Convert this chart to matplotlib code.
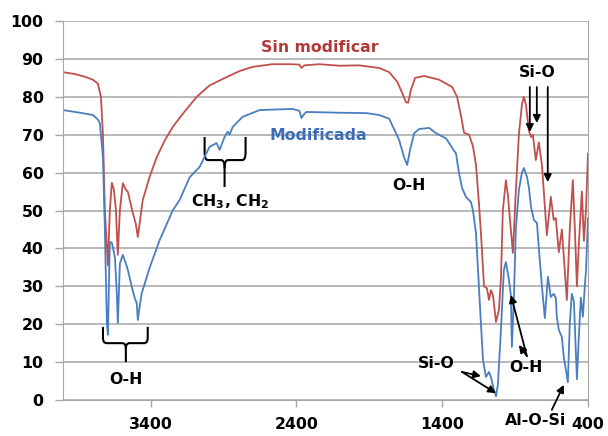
import matplotlib
matplotlib.use("Agg")
import matplotlib.pyplot as plt
from matplotlib.path import Path
from matplotlib.patches import PathPatch

plt.rcParams['font.family'] = ['DejaVu Sans']

# Sin modificar (red)
red_wn = [4000, 3918, 3850, 3795, 3761, 3740, 3726, 3713, 3692, 3679, 3665, 3651, 3637, 3624,
          3610, 3590, 3569, 3555, 3521, 3501, 3487, 3473, 3453, 3405, 3357, 3302, 3248, 3179,
          3083, 2995, 2878, 2789, 2700, 2564, 2447, 2379, 2365, 2345, 2242, 2105, 1969, 1832,
          1763, 1709, 1674, 1647, 1633, 1613, 1585, 1524, 1421, 1332, 1298, 1271, 1250, 1216,
          1189, 1168, 1148, 1134, 1113, 1093, 1079, 1065, 1051, 1031, 1011, 997, 984, 963, 949,
          936, 915, 895, 874, 853, 840, 826, 805, 791, 778, 758, 737, 716, 703, 682, 655, 635,
          621, 600, 579, 559, 545, 525, 504, 490, 476, 463, 442, 428, 414, 400]
red_t = [86.5, 86.0, 85.3, 84.5, 83.5, 80.0, 70.0, 50.0, 35.6, 50.0, 57.3, 55.5, 50.0, 38.3,
         50.0, 57.2, 55.5, 54.9, 49.3, 46.5, 43.0, 47.0, 52.8, 59.0, 64.1, 68.5, 72.0, 75.5,
         80.0, 83.0, 85.2, 86.8, 87.9, 88.6, 88.6, 88.5, 87.6, 88.3, 88.6, 88.2, 88.3, 87.6,
         86.5, 84.0, 81.0, 78.5, 78.5, 82.0, 85.0, 85.5, 84.5, 82.6, 80.0, 75.0, 70.5, 70.0,
         67.0, 62.0, 52.0, 44.0, 30.0, 29.5, 26.4, 29.0, 27.5, 20.6, 23.7, 32.0, 50.0, 58.0, 54.0,
         48.0, 38.8, 55.0, 70.0, 78.0, 80.0, 78.0, 71.0, 69.4, 70.0, 63.3, 68.0, 62.0, 55.0, 43.5,
         53.6, 47.5, 48.0, 39.0, 45.0, 34.0, 26.4, 45.0, 58.0, 45.0, 30.0, 41.0, 55.0, 42.0,
         50.0, 65.0]

# Modificada (blue)
blue_wn = [4000, 3884, 3795, 3761, 3747, 3726, 3713, 3699, 3692, 3685, 3679, 3665, 3644, 3631,
           3624, 3617, 3610, 3590, 3569, 3555, 3528, 3508, 3494, 3487, 3473, 3460, 3405, 3337,
           3248, 3200, 3131, 3063, 2995, 2947, 2926, 2892, 2871, 2858, 2837, 2769, 2652, 2427,
           2379, 2365, 2345, 2331, 2105, 1921, 1832, 1763, 1695, 1661, 1640, 1620, 1592, 1558,
           1490, 1442, 1373, 1339, 1305, 1285, 1264, 1237, 1202, 1189, 1168, 1148, 1134, 1120,
           1100, 1079, 1065, 1045, 1031, 1018, 997, 977, 963, 942, 929, 922, 908, 895, 874, 853,
           840, 819, 805, 791, 771, 750, 737, 716, 696, 675, 655, 635, 621, 614, 600, 579, 566,
           552, 538, 525, 511, 497, 476, 463, 449, 435, 422, 414, 400]
blue_t = [76.5, 75.8, 75.2, 74.0, 73.0, 64.0, 45.0, 20.3, 17.2, 30.0, 41.7, 41.5, 37.7, 28.0,
          20.3, 28.0, 36.0, 38.3, 36.0, 34.3, 29.8, 26.9, 25.5, 21.1, 25.0, 28.2, 35.0, 42.2,
          50.0, 52.8, 58.8, 61.5, 66.8, 67.8, 66.0, 69.4, 70.8, 70.0, 72.0, 74.7, 76.5, 76.8,
          76.3, 74.4, 75.5, 76.0, 75.8, 75.7, 75.2, 74.2, 68.6, 64.0, 62.0, 66.0, 70.4, 71.5,
          71.8, 70.4, 69.0, 67.0, 65.0, 60.0, 56.0, 53.6, 52.2, 50.0, 44.0, 30.0, 20.0, 10.6,
          6.1, 7.4, 6.0, 2.6, 1.0, 4.0, 18.5, 34.3, 36.4, 31.7, 27.7, 14.0, 27.2, 45.0, 55.4, 60.0,
          61.2, 59.0, 56.0, 51.0, 47.5, 46.7, 40.0, 30.0, 21.6, 32.5, 27.2, 28.0, 27.0, 22.0,
          18.5, 16.6, 11.3, 8.0, 4.7, 20.0, 28.0, 26.0, 5.5, 16.6, 27.0, 22.0, 30.0, 34.0, 48.0]

x_ticks = [3400, 2400, 1400, 400]
y_ticks = list(range(0, 101, 10))

RED = '#C0504D'
BLUE = '#4A7EC0'
GRID = '#A6A6A6'
FS = 11.3

fig = plt.figure(figsize=(6.08, 4.36), dpi=100)
ax = fig.add_axes([63/608, 36/436, 525/608, 379/436])

ax.plot(red_wn, red_t, color=RED, lw=1.3)
ax.plot(blue_wn, blue_t, color=BLUE, lw=1.3)

ax.set_xlim(4000, 400)
ax.set_ylim(0, 100)
ax.set_xticks(x_ticks)
ax.set_yticks(y_ticks)
ax.yaxis.grid(True, color=GRID, lw=1.1)
ax.set_axisbelow(True)
for s in ['left', 'bottom', 'right', 'top']:
    ax.spines[s].set_color(GRID)
ax.spines['top'].set_visible(False)
ax.tick_params(axis='both', colors=GRID, width=1, labelcolor='black', labelsize=FS)
ax.tick_params(axis='x', length=5, pad=7)
ax.tick_params(axis='y', length=6, pad=8)
for lab in ax.get_xticklabels() + ax.get_yticklabels():
    lab.set_fontweight('bold')

tkw = dict(fontweight='bold', ha='center', va='center', fontsize=FS)
ax.text(2242, 93.1, 'Sin modificar', color='#B03A3A', **tkw)
ax.text(2249, 69.9, 'Modificada', color='#3C6DB4', **tkw)
ax.text(2851, 52.3, r'CH$_\mathbf{3}$, CH$_\mathbf{2}$', color='black', **tkw)
ax.text(3569, 5.3, 'O-H', color='black', **tkw)
ax.text(1627, 56.7, 'O-H', color='black', **tkw)
ax.text(751, 86.5, 'Si-O', color='black', **tkw)
ax.text(1442, 9.5, 'Si-O', color='black', **tkw)
ax.text(826, 8.7, 'O-H', color='black', **tkw)
ax.text(758, -5.5, 'Al-O-Si', color='black', clip_on=False, **tkw)

akw = dict(arrowstyle='-|>', color='black', lw=1.3, mutation_scale=11,
           shrinkA=0, shrinkB=0)
def arrow(x0, y0, x1, y1):
    ax.annotate('', xy=(x1, y1), xytext=(x0, y0), arrowprops=akw, annotation_clip=False)

# Si-O top
arrow(799, 82.6, 799, 70.7)
arrow(751, 82.6, 751, 73.1)
arrow(676, 82.6, 676, 57.5)
# Si-O bottom
arrow(1264, 7.4, 1134, 6.3)
arrow(1264, 7.4, 1031, 1.8)
# O-H right
arrow(819, 11.6, 929, 27.7)
arrow(819, 11.6, 874, 14.5)
# Al-O-Si
arrow(648, -2.6, 566, 4.0)

def brace(xl, xr, xm, ytop, ybot, ystem):
    dx = (xr - xl) * 0.08
    dy = (ytop - ybot) * 0.35
    verts = [(xl, ytop), (xl, ybot + dy), (xl, ybot), (xl + dx, ybot),
             (xm - dx, ybot), (xm, ybot), (xm, ybot - dy),
             (xm, ystem)]
    codes = [Path.MOVETO, Path.LINETO, Path.CURVE3, Path.CURVE3,
             Path.LINETO, Path.CURVE3, Path.CURVE3, Path.LINETO]
    verts2 = [(xr, ytop), (xr, ybot + dy), (xr, ybot), (xr - dx, ybot),
              (xm + dx, ybot), (xm, ybot), (xm, ybot - dy)]
    codes2 = [Path.MOVETO, Path.LINETO, Path.CURVE3, Path.CURVE3,
              Path.LINETO, Path.CURVE3, Path.CURVE3]
    for v, c in ((verts, codes), (verts2, codes2)):
        ax.add_patch(PathPatch(Path(v, c), fill=False, edgecolor='black', lw=1.5,
                               clip_on=False))

brace(3029, 2748, 2892, 69.4, 63.3, 56.2)
brace(3726, 3419, 3569, 19.3, 15.0, 10.0)

fig.savefig('out.png', dpi=100)
